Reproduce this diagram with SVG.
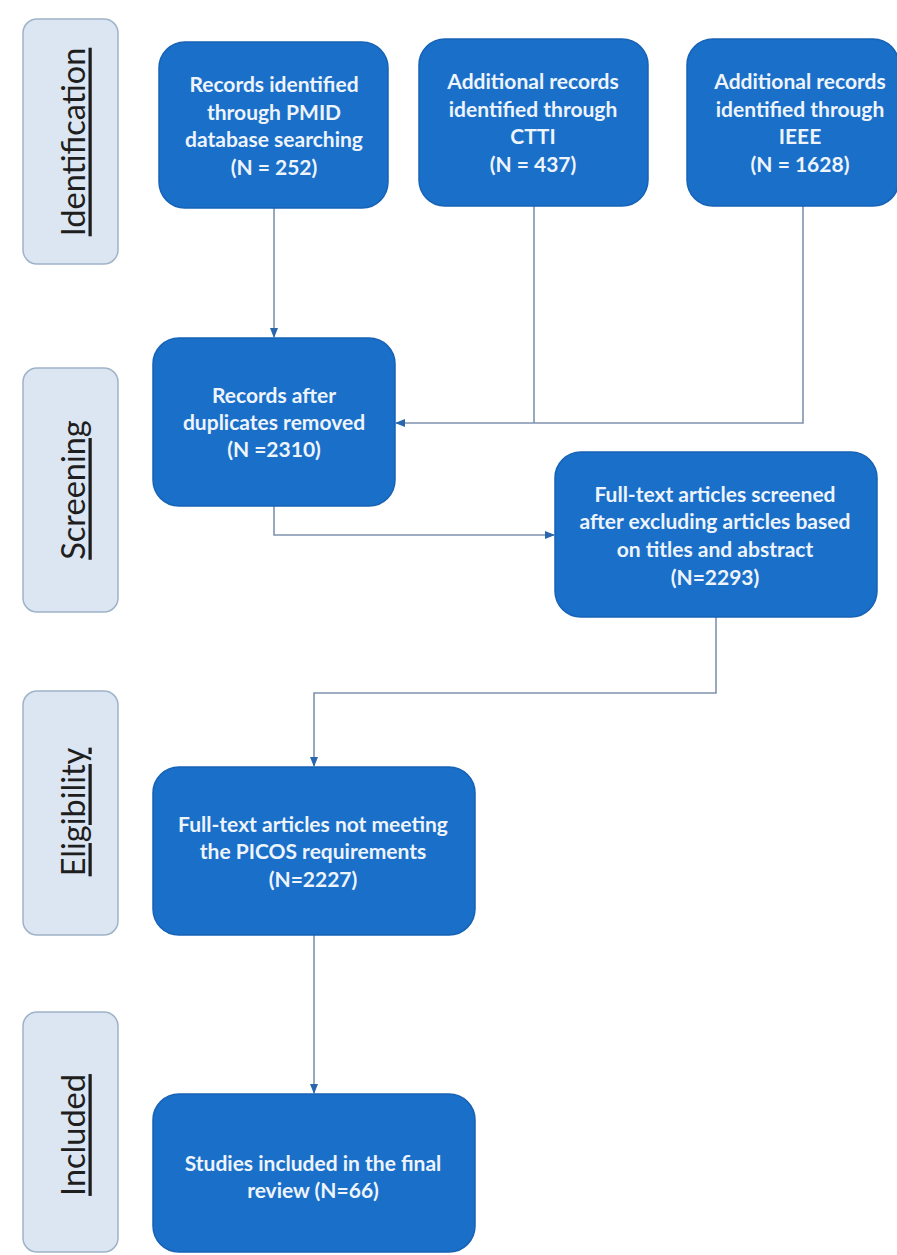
<svg xmlns="http://www.w3.org/2000/svg" width="897" height="1255" viewBox="0 0 897 1255">
<defs>
<style>
.side{fill:#dce6f2;stroke:#9fb3c8;stroke-width:1.5}
.sidet{font-family:Lato,"Liberation Sans",sans-serif;font-size:32.5px;fill:#1e1e1e;text-decoration:underline;text-anchor:middle;dominant-baseline:central}
.box{fill:#1a6fc9;stroke:#1763b5;stroke-width:1.5}
.bt{font-family:Lato,"Liberation Sans",sans-serif;font-size:21px;font-weight:bold;fill:#eef4fb;text-anchor:middle}
.ln{fill:none;stroke:#7f93ad;stroke-width:1.6}
</style>
<marker id="ah" markerWidth="10" markerHeight="8" refX="9" refY="4" orient="auto" markerUnits="userSpaceOnUse">
<path d="M0,0 L10,4 L0,8 Z" fill="#2a66ad"/>
</marker>
</defs>
<rect width="897" height="1255" fill="#ffffff"/>

<g id="phase-identification">
<rect class="side" x="23" y="19" width="95" height="245" rx="14"/>
<text class="sidet" transform="translate(72,142) rotate(-90)">Identification</text>
</g>
<g id="phase-screening">
<rect class="side" x="23" y="368" width="95" height="244" rx="14"/>
<text class="sidet" transform="translate(72,490) rotate(-90)">Screening</text>
</g>
<g id="phase-eligibility">
<rect class="side" x="23" y="691" width="95" height="244" rx="14"/>
<text class="sidet" transform="translate(72,812) rotate(-90)">Eligibility</text>
</g>
<g id="phase-included">
<rect class="side" x="23" y="1012" width="95" height="240" rx="14"/>
<text class="sidet" transform="translate(72,1135) rotate(-90)">Included</text>
</g>

<g id="connectors">
<path class="ln" d="M274,208 V337" marker-end="url(#ah)"/>
<path class="ln" d="M534,206 V423"/>
<path class="ln" d="M803,206 V423 H396" marker-end="url(#ah)"/>
<path class="ln" d="M274,506 V535 H554" marker-end="url(#ah)"/>
<path class="ln" d="M716,617 V693 H314 V766" marker-end="url(#ah)"/>
<path class="ln" d="M314,935 V1093" marker-end="url(#ah)"/>
</g>

<g id="node-pmid">
<rect class="box" x="159" y="42" width="229" height="166" rx="26"/>
<text class="bt" x="274" y="92">Records identified</text>
<text class="bt" x="274" y="120">through  PMID</text>
<text class="bt" x="274" y="147">database searching</text>
<text class="bt" x="274" y="175">(N = 252)</text>
</g>
<g id="node-ctti">
<rect class="box" x="419" y="39" width="229" height="167" rx="26"/>
<text class="bt" x="533" y="89">Additional records</text>
<text class="bt" x="533" y="117">identified through</text>
<text class="bt" x="533" y="144">CTTI</text>
<text class="bt" x="533" y="172">(N = 437)</text>
</g>
<g id="node-ieee">
<rect class="box" x="687" y="39" width="212" height="167" rx="26"/>
<text class="bt" x="800" y="89">Additional records</text>
<text class="bt" x="800" y="117">identified through</text>
<text class="bt" x="800" y="144">IEEE</text>
<text class="bt" x="800" y="172">(N = 1628)</text>
</g>
<g id="node-dedup">
<rect class="box" x="153" y="338" width="242" height="168" rx="26"/>
<text class="bt" x="274" y="403">Records after</text>
<text class="bt" x="274" y="430">duplicates removed</text>
<text class="bt" x="274" y="457">(N =2310)</text>
</g>
<g id="node-fulltext">
<rect class="box" x="555" y="452" width="322" height="165" rx="26"/>
<text class="bt" x="715" y="502">Full-text articles screened</text>
<text class="bt" x="715" y="529">after excluding articles based</text>
<text class="bt" x="715" y="557">on titles and abstract</text>
<text class="bt" x="715" y="585">(N=2293)</text>
</g>
<g id="node-picos">
<rect class="box" x="153" y="767" width="322" height="168" rx="26"/>
<text class="bt" x="313" y="832">Full-text articles not meeting</text>
<text class="bt" x="313" y="859">the PICOS requirements</text>
<text class="bt" x="313" y="887">(N=2227)</text>
</g>
<g id="node-included">
<rect class="box" x="153" y="1094" width="322" height="158" rx="26"/>
<text class="bt" x="313" y="1171">Studies included in the final</text>
<text class="bt" x="313" y="1198">review (N=66)</text>
</g>
</svg>
